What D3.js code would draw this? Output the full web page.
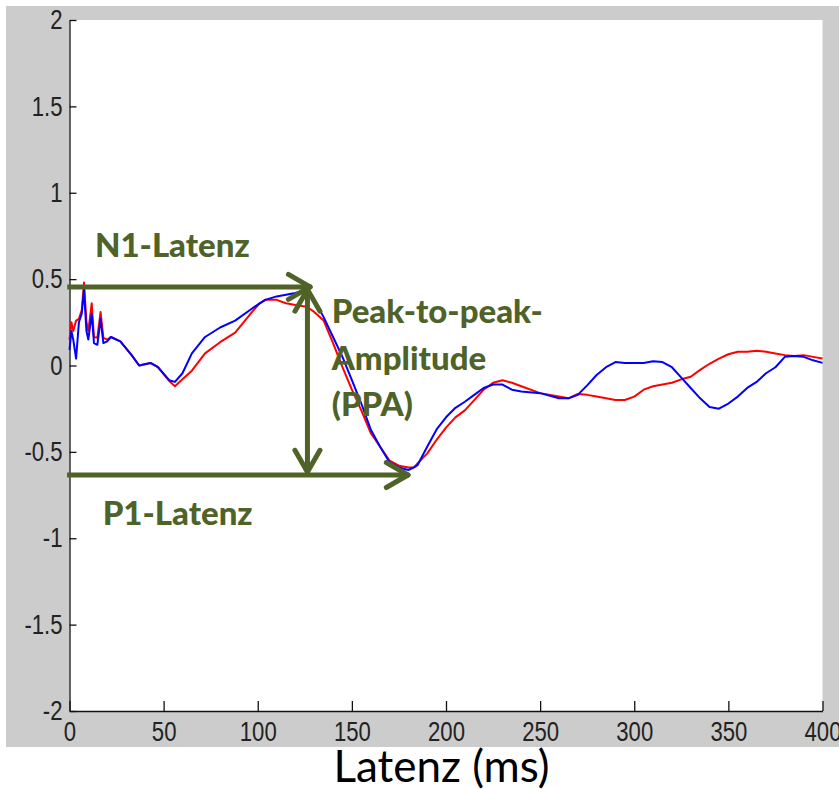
<!DOCTYPE html>
<html>
<head>
<meta charset="utf-8">
<script src="https://cdn.jsdelivr.net/npm/d3@7"></script>
<style>
  body { margin: 0; background: #ffffff; }
  .tick text { font-family: "Liberation Sans", Arial, sans-serif; font-size: 27px; fill: #222; }
</style>
</head>
<body>
<div id="my_dataviz"></div>
<script>
// Zeitpunkte (ms) und die beiden Kurven
var timesMs = [0, 1, 2, 3.5, 5, 6.5, 7.7, 9, 10, 11.8, 13, 14.8, 16.5, 18, 20, 22, 27, 33, 37, 43, 47, 53, 56, 60, 65, 72, 80, 88, 97, 101, 104, 110, 115, 120, 126, 130, 135, 140, 145, 150, 155, 160, 165, 170, 175, 180, 183, 185, 190, 195, 200, 205, 210, 215, 220, 225, 230, 235, 240, 250, 260, 265, 270, 275, 280, 285, 290, 295, 300, 305, 310, 315, 320, 325, 330, 335, 340, 345, 350, 355, 360, 365, 370, 375, 380, 385, 390, 395, 400];

var blueValues = [0.09, 0.2, 0.15, 0.04, 0.25, 0.3, 0.44, 0.2, 0.15, 0.3, 0.13, 0.12, 0.27, 0.13, 0.14, 0.165, 0.14, 0.06, 0.0, 0.015, -0.01, -0.085, -0.095, -0.045, 0.07, 0.165, 0.22, 0.26, 0.33, 0.36, 0.38, 0.4, 0.41, 0.42, 0.44, 0.38, 0.28, 0.165, 0.05, -0.085, -0.22, -0.37, -0.47, -0.56, -0.59, -0.605, -0.59, -0.575, -0.47, -0.37, -0.3, -0.245, -0.21, -0.17, -0.13, -0.11, -0.11, -0.14, -0.15, -0.16, -0.19, -0.19, -0.17, -0.115, -0.055, -0.01, 0.02, 0.015, 0.015, 0.015, 0.025, 0.02, -0.01, -0.07, -0.13, -0.19, -0.24, -0.25, -0.22, -0.18, -0.13, -0.095, -0.045, -0.01, 0.05, 0.055, 0.05, 0.03, 0.015];

var redValues = [0.15, 0.25, 0.2, 0.26, 0.27, 0.32, 0.48, 0.25, 0.2, 0.36, 0.165, 0.16, 0.31, 0.16, 0.15, 0.165, 0.14, 0.06, 0.0, 0.015, -0.01, -0.09, -0.12, -0.08, -0.03, 0.07, 0.135, 0.19, 0.31, 0.36, 0.38, 0.38, 0.36, 0.35, 0.34, 0.31, 0.26, 0.13, -0.01, -0.14, -0.26, -0.39, -0.47, -0.55, -0.58, -0.59, -0.59, -0.565, -0.51, -0.43, -0.36, -0.3, -0.26, -0.2, -0.14, -0.1, -0.085, -0.1, -0.12, -0.16, -0.18, -0.19, -0.165, -0.17, -0.18, -0.19, -0.2, -0.2, -0.18, -0.14, -0.12, -0.11, -0.1, -0.08, -0.065, -0.025, 0.01, 0.04, 0.065, 0.08, 0.08, 0.085, 0.08, 0.07, 0.06, 0.055, 0.06, 0.05, 0.04];

// Achsenbeschriftung
var xTicks = [0, 50, 100, 150, 200, 250, 300, 350, 400];
var yTicks = [-2, -1.5, -1, -0.5, 0, 0.5, 1, 1.5, 2];

// Markierungen (in Datenkoordinaten)
var n1Line = [-1.2, 127.8, 0.455];     // von t, bis t, Wert
var p1Line = [-1.3, 179.8, -0.634];
var ppaArrow = [126.4, 0.44, -0.616];  // t, von Wert, bis Wert
var n1Label = [13.5, 0.628, "N1-Latenz"];
var p1Label = [17.6, -0.923, "P1-Latenz"];
var ppaLabel = [139.3, [0.246, -0.026, -0.292], ["Peak-to-peak-", "Amplitude", "(PPA)"]];

var W = 839, H = 789;
var annColor = "#4f6228";
var narrow = 0.82; // Matlab-Schrift ist schmaler

var svg = d3.select("#my_dataviz")
  .append("svg")
  .attr("width", W)
  .attr("height", H);

// grauer Hintergrund (Matlab-Figure) und weisse Achsenflaeche
svg.append("rect")
  .attr("x", 6).attr("y", 6)
  .attr("width", W - 6).attr("height", 741)
  .attr("fill", "#cccccc");

var x = d3.scaleLinear().domain([0, 400]).range([69.5, 822.5]);
var y = d3.scaleLinear().domain([-2, 2]).range([711, 20]);

svg.append("rect")
  .attr("x", x(0)).attr("y", y(2))
  .attr("width", x(400) - x(0)).attr("height", y(-2) - y(2))
  .attr("fill", "#ffffff");

// Achsen, Ticks nach innen
var xAxis = svg.append("g")
  .attr("transform", "translate(0," + y(-2) + ")")
  .call(d3.axisBottom(x).tickValues(xTicks).tickSizeInner(-10).tickSizeOuter(0).tickPadding(11).tickFormat(d3.format("d")));

var yAxis = svg.append("g")
  .attr("transform", "translate(" + x(0) + ",0)")
  .call(d3.axisLeft(y).tickValues(yTicks).tickSizeInner(-7).tickSizeOuter(0).tickPadding(7).tickFormat(function(d) { return d; }));

svg.selectAll(".domain, .tick line")
  .attr("stroke", "#111")
  .attr("stroke-width", 1.3);

// Ziffern schmaler machen
svg.selectAll(".tick text")
  .attr("x", function() { return (+this.getAttribute("x") || 0) / narrow; })
  .attr("transform", "scale(" + narrow + ",1)");

// Kurven
var line = d3.line()
  .x(function(d) { return x(d[0]); })
  .y(function(d) { return y(d[1]); });

var series = [
  { color: "#ff0000", values: redValues },
  { color: "#0000ff", values: blueValues }
];

series.forEach(function(s) {
  svg.append("path")
    .datum(timesMs.map(function(t, i) { return [t, s.values[i]]; }))
    .attr("fill", "none")
    .attr("stroke", s.color)
    .attr("stroke-width", 2)
    .attr("stroke-linejoin", "round")
    .attr("d", line);
});

// Pfeile
var ann = svg.append("g")
  .attr("stroke", annColor)
  .attr("stroke-width", 5)
  .attr("stroke-linecap", "round")
  .attr("fill", "none");

function arrowHead(tx, ty, angle) {
  // angle: Richtung in die der Pfeil zeigt
  var len = 25, spread = Math.PI / 6;
  [-spread, spread].forEach(function(s) {
    ann.append("line")
      .attr("x1", tx).attr("y1", ty)
      .attr("x2", tx - len * Math.cos(angle + s))
      .attr("y2", ty - len * Math.sin(angle + s));
  });
}

[n1Line, p1Line].forEach(function(l) {
  ann.append("line")
    .attr("stroke-linecap", "butt")
    .attr("x1", x(l[0])).attr("y1", y(l[2]))
    .attr("x2", x(l[1])).attr("y2", y(l[2]));
  arrowHead(x(l[1]), y(l[2]), 0);
});

ann.append("line")
  .attr("x1", x(ppaArrow[0])).attr("y1", y(ppaArrow[1]))
  .attr("x2", x(ppaArrow[0])).attr("y2", y(ppaArrow[2]));
arrowHead(x(ppaArrow[0]), y(ppaArrow[1]), -Math.PI / 2);
arrowHead(x(ppaArrow[0]), y(ppaArrow[2]), Math.PI / 2);

// Beschriftungen
var labelFont = "Lato, 'Open Sans', sans-serif";

[n1Label, p1Label].forEach(function(l) {
  svg.append("text")
    .attr("x", x(l[0])).attr("y", y(l[1]))
    .attr("font-family", labelFont)
    .attr("font-weight", 900)
    .attr("font-size", 33)
    .attr("fill", annColor)
    .text(l[2]);
});

ppaLabel[2].forEach(function(t, i) {
  svg.append("text")
    .attr("x", x(ppaLabel[0])).attr("y", y(ppaLabel[1][i]))
    .attr("font-family", labelFont)
    .attr("font-weight", 900)
    .attr("font-size", 33)
    .attr("fill", annColor)
    .text(t);
});

// x-Achsentitel
svg.append("text")
  .attr("x", 441.5).attr("y", 782)
  .attr("text-anchor", "middle")
  .attr("font-family", labelFont)
  .attr("font-size", 44)
  .attr("fill", "#000")
  .text("Latenz (ms)");
</script>
</body>
</html>
